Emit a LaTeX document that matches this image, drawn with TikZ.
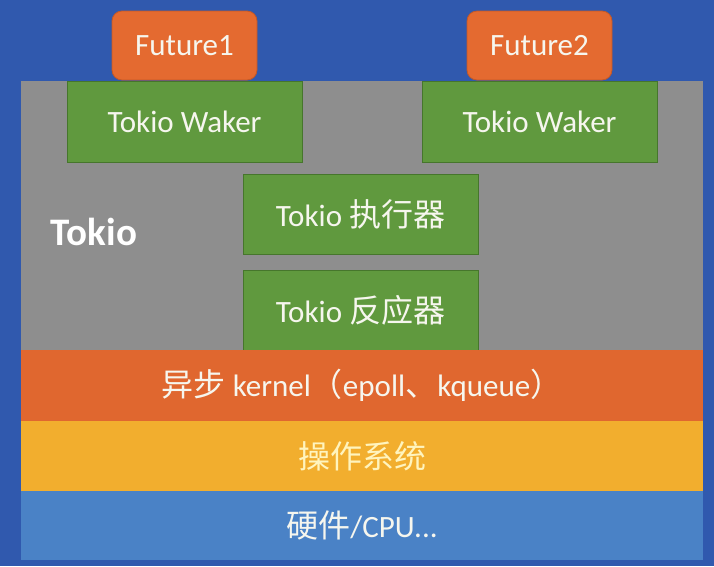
\documentclass[tikz,border=0pt]{standalone}
\usepackage{fontspec}
\setmainfont{Carlito}
\newfontfamily\cjk{Noto Sans CJK SC}
\newcommand{\zh}[1]{{\cjk\fontsize{32}{36}\selectfont #1}}
\definecolor{bgblue}{RGB}{48,89,174}
\definecolor{tkgray}{RGB}{142,142,142}
\definecolor{tkgreen}{RGB}{96,153,62}
\definecolor{tkgreenline}{RGB}{70,118,44}
\definecolor{futorange}{RGB}{228,106,48}
\definecolor{futline}{RGB}{196,88,38}
\definecolor{kernorange}{RGB}{224,103,47}
\definecolor{osyellow}{RGB}{242,174,46}
\definecolor{hwblue}{RGB}{74,130,198}
\definecolor{txtwhite}{RGB}{246,246,238}
\definecolor{txtyellow}{RGB}{255,244,190}
\begin{document}
\begin{tikzpicture}[x=1pt,y=-1pt,
  every node/.style={inner sep=0pt, outer sep=0pt},
  label text/.style={text=txtwhite, font=\fontsize{31}{36}\selectfont},
  future box/.style={label text, rectangle, rounded corners=10pt, fill=futorange,
    draw=futline, line width=0.8pt, minimum width=145pt, minimum height=69pt},
  green box/.style={label text, rectangle, fill=tkgreen, draw=tkgreenline,
    line width=1pt, minimum width=235pt, minimum height=81pt},
  layer bar/.style={label text, rectangle, minimum width=682pt}
]
% page background
\fill[bgblue] (0,0) rectangle (714,566);
\useasboundingbox (0,0) rectangle (714,566);

% futures on top
\node[future box] (fut1) at (184.5,45.5) {Future1};
\node[future box] (fut2) at (539.5,45.5) {Future2};

% Tokio runtime area
\node[rectangle, fill=tkgray, minimum width=682pt, minimum height=269pt] (tokio) at (362,215.5) {};
\node[text=white, font=\fontsize{39}{42}\selectfont\bfseries] (tokiolabel) at (94,232) {Tokio};

% Tokio components
\node[green box] (waker1) at (184.5,121.5) {Tokio Waker};
\node[green box] (waker2) at (539.5,121.5) {Tokio Waker};
\node[green box, minimum height=80pt] (executor) at (360.5,214) {Tokio \zh{执行器}};
\node[green box, minimum height=80pt] (reactor) at (360.5,310) {Tokio \zh{反应器}};

% layered stack below
\node[layer bar, fill=kernorange, minimum height=71pt] (kernel) at (362,385.5)
  {\zh{异步} kernel\zh{（}epoll\zh{、}kqueue\zh{）}};
\node[layer bar, fill=osyellow, minimum height=70pt, text=txtyellow] (os) at (362,456) {\zh{操作系统}};
\node[layer bar, fill=hwblue, minimum height=69pt] (hw) at (362,525.5) {\zh{硬件}/CPU...};
\end{tikzpicture}
\end{document}
